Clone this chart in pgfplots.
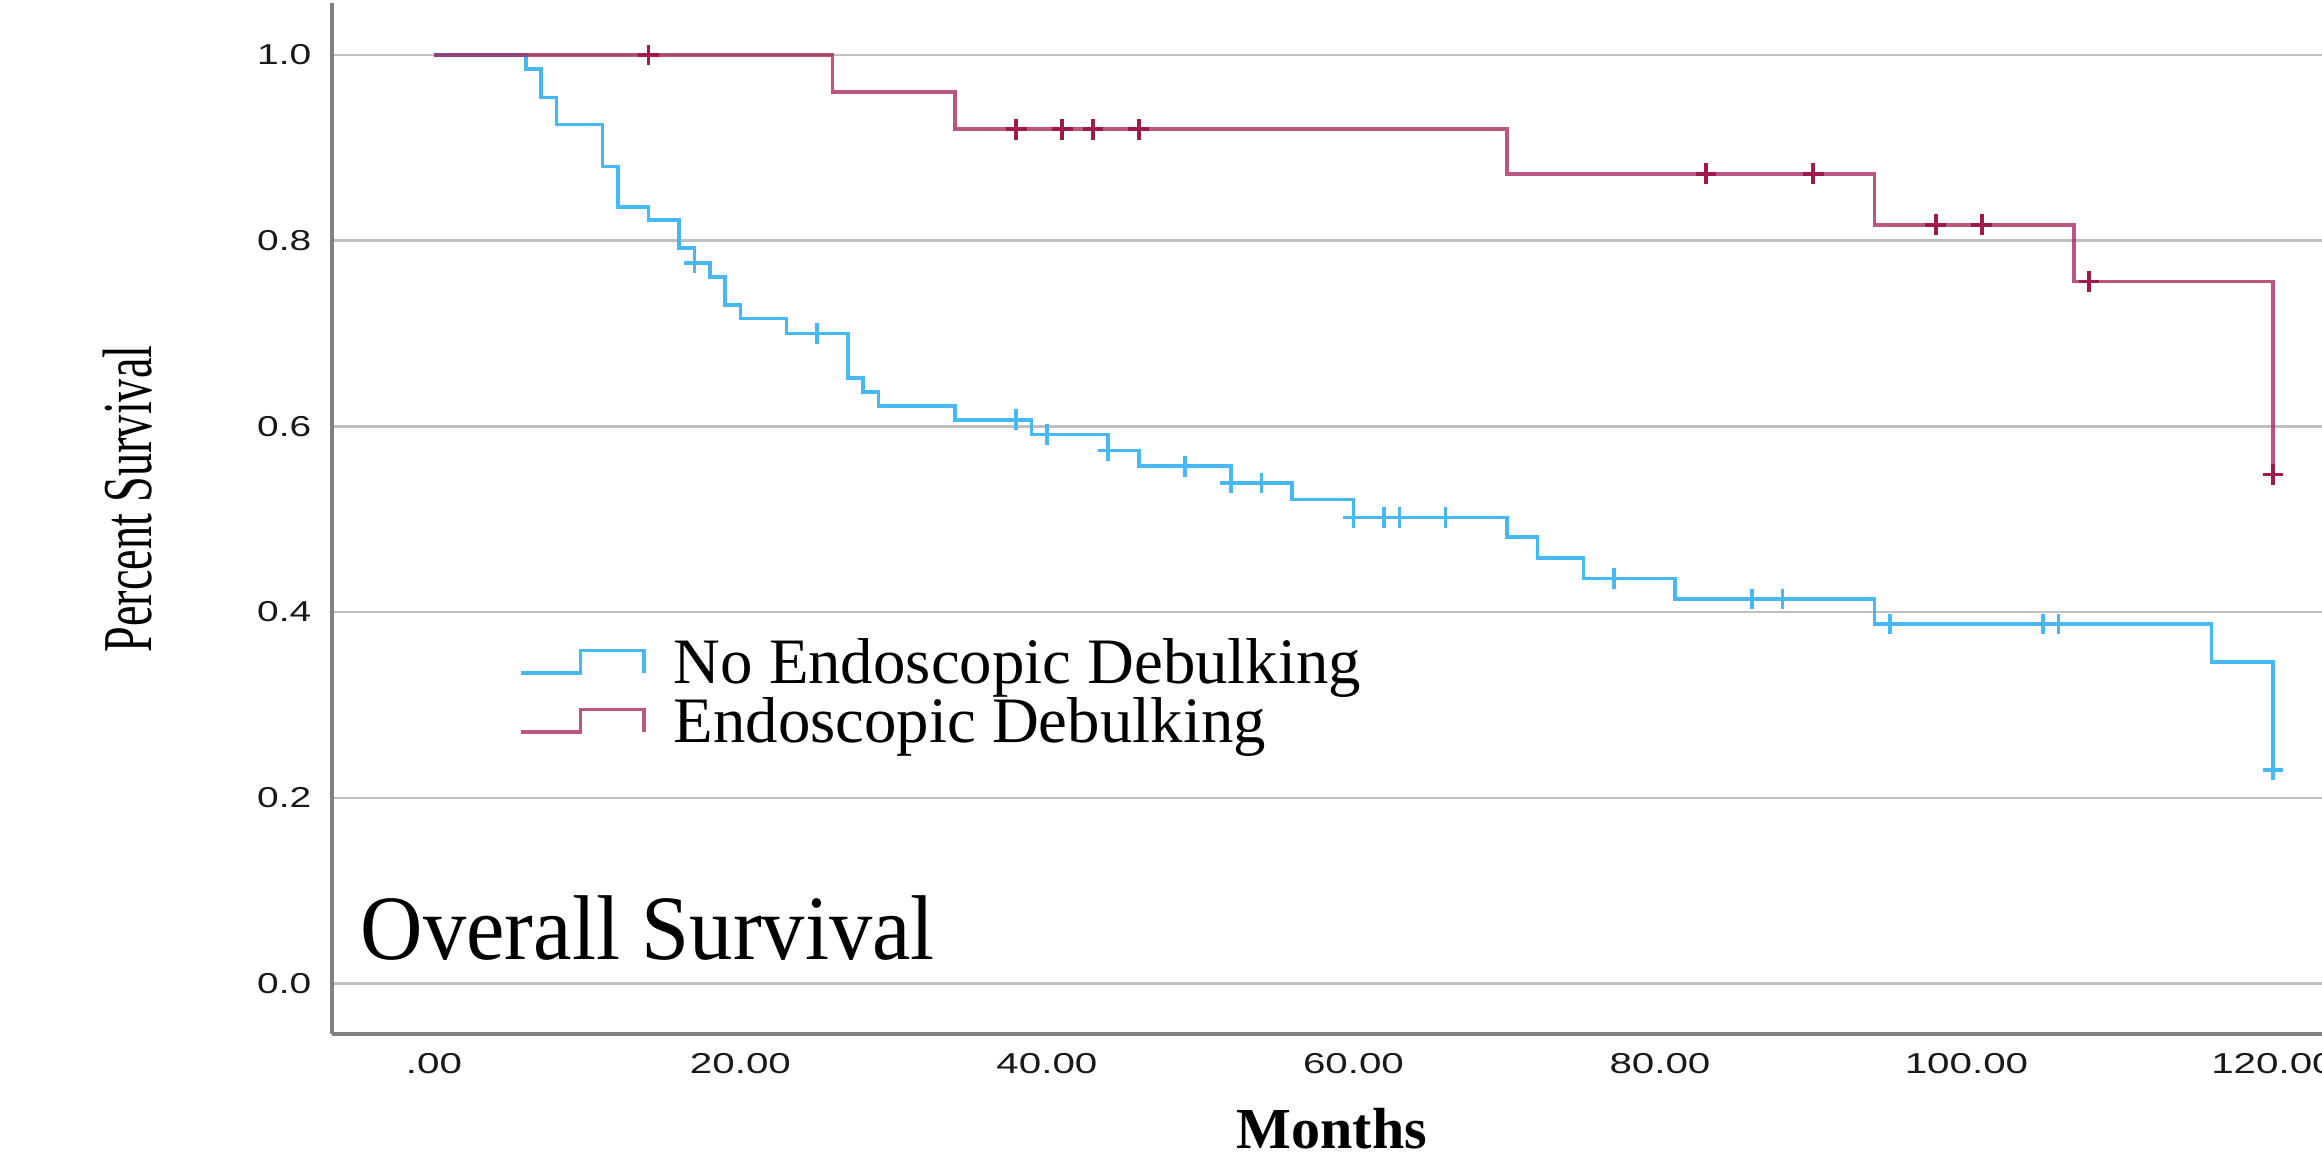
\documentclass[border=0pt]{standalone}
\usepackage{fontspec}
\setmainfont{Liberation Serif}
\setsansfont{Liberation Sans}
\usepackage{graphicx}
\usepackage{pgfplots}
\pgfplotsset{compat=1.18}
\definecolor{blueKM}{RGB}{70,184,244}
\definecolor{redKM}{RGB}{165,30,85}
\definecolor{redMark}{RGB}{160,25,75}
\newcommand{\yt}[1]{\scalebox{1.35}[1]{#1}}
\newcommand{\xt}[1]{\scalebox{1.4}[1]{#1}}
\begin{document}
\begin{tikzpicture}
\useasboundingbox (0,0) rectangle (580.5pt,290.75pt);
\clip (0,0) rectangle (580.5pt,290.75pt);
\begin{axis}[
  at={(83pt,32.2pt)}, anchor=south west,
  scale only axis, width=497.5pt, height=257.8pt,
  xmin=-6.65, xmax=123.2, ymin=-0.0547, ymax=1.056,
  axis x line*=bottom, axis y line*=left,
  axis line style={draw=black!50, line width=1pt, -},
  xtick={0,20,40,60,80,100,120},
  xticklabels={\xt{.00},\xt{20.00},\xt{40.00},\xt{60.00},\xt{80.00},\xt{100.00},\xt{120.00}},
  ytick={0,0.2,0.4,0.6,0.8,1.0},
  yticklabels={\yt{0.0},\yt{0.2},\yt{0.4},\yt{0.6},\yt{0.8},\yt{1.0}},
  major tick length=0pt,
  ymajorgrids, grid style={black!25, line width=0.6pt},
  xticklabel style={anchor=center, yshift=-7.4pt, inner sep=0pt, font=\sffamily\fontsize{7.2}{8}\selectfont, text=black!90},
  yticklabel style={anchor=east, xshift=-5pt, inner sep=0pt, font=\sffamily\fontsize{7.2}{8}\selectfont, text=black!90},
  legend style={at={(axis description cs:0.0935,0.392)}, anchor=north west, draw=none, fill=none, inner sep=0pt, font=\fontsize{16.2}{16}\selectfont, row sep=-2pt},
  legend cell align=left,
  legend image code/.code={\draw[#1] (0pt,-2.2pt) -- (15pt,-2.2pt) -- (15pt,3.4pt) -- (30.8pt,3.4pt) -- (30.8pt,-2.2pt);},
  /tikz/every odd column/.append style={column sep=5pt},
]
% No Endoscopic Debulking
\addplot[blueKM, line width=0.9pt, const plot, mark=none] coordinates {
(0,1.000) (6,0.985) (7,0.954) (8,0.925) (11,0.880) (12,0.836) (14,0.822)
(16,0.792) (17,0.776) (18,0.761) (19,0.731) (20,0.716) (23,0.700) (27,0.652)
(28,0.637) (29,0.622) (34,0.607) (39,0.591) (44,0.574) (46,0.557) (52,0.539)
(56,0.521) (60,0.502) (70,0.481) (72,0.458) (75,0.436) (81,0.414) (94,0.387)
(116,0.346) (120,0.230)
};
\addlegendentry{No Endoscopic Debulking}
% Endoscopic Debulking
\addplot[redKM, draw opacity=0.75, line width=0.9pt, const plot, mark=none] coordinates {
(0,1.000) (26,0.960) (34,0.920) (70,0.872) (94,0.817) (107,0.756) (120,0.548)
};
\addlegendentry{Endoscopic Debulking}
% censor marks
\addplot[blueKM, only marks, mark=+, mark size=2.6pt, mark options={line width=0.9pt}, forget plot] coordinates {
(17,0.776) (25,0.700) (38,0.607) (40,0.591) (44,0.574) (49,0.557) (52,0.539)
(54,0.539) (60,0.502) (62,0.502) (63,0.502) (66,0.502) (77,0.436) (86,0.414)
(88,0.414) (95,0.387) (105,0.387) (106,0.387) (120,0.230)
};
\addplot[redMark, only marks, mark=+, mark size=2.6pt, mark options={line width=0.9pt}, forget plot] coordinates {
(14,1.000) (38,0.920) (41,0.920) (43,0.920) (46,0.920) (83,0.872) (90,0.872)
(98,0.817) (101,0.817) (108,0.756) (120,0.548)
};
\end{axis}
\node[rotate=90] at (32pt,166pt) {\scalebox{0.66}[1]{\fontsize{17.5}{18}\selectfont Percent Survival}};
\node at (333pt,8.5pt) {\fontsize{14.5}{15}\selectfont\bfseries Months};
\node[anchor=base west, inner sep=0pt] at (90pt,50.8pt) {\scalebox{0.94}[1]{\fontsize{23}{24}\selectfont Overall Survival}};
\end{tikzpicture}
\end{document}
